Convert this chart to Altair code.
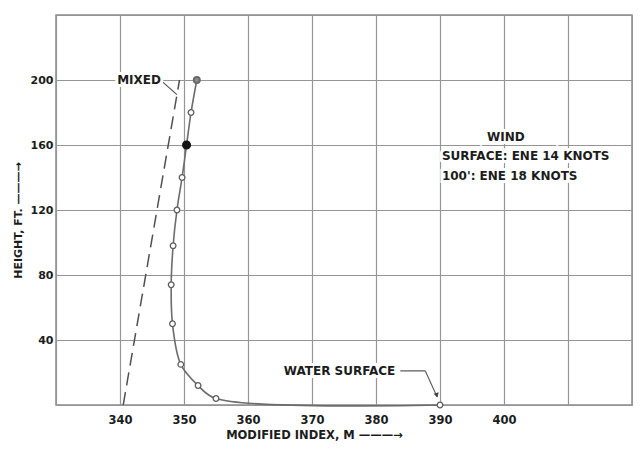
import altair as alt
import pandas as pd

HEIGHT_FT = [0, 4, 12, 25, 50, 74, 98, 120, 140, 160, 180, 200]
INDEX_M = [390.0, 355.0, 352.2, 349.5, 348.2, 348.0, 348.3, 348.9, 349.7, 350.4, 351.1, 352.0]
SOLID_DOT_HEIGHTS = [160]
GREY_DOT_HEIGHTS = [200]

# "Mixed" reference (dashed line)
MIXED_HEIGHT_FT = [0, 200]
MIXED_INDEX_M = [340.5, 349.3]

X_TICKS = [330, 340, 350, 360, 370, 380, 390, 400, 410, 420]
X_TICK_LABELS = ["340", "350", "360", "370", "380", "390", "400"]
Y_TICKS = [0, 40, 80, 120, 160, 200, 240]
Y_TICK_LABELS = ["40", "80", "120", "160", "200"]

WIND_LINES = ["WIND", "SURFACE: ENE 14 KNOTS", "100': ENE 18 KNOTS"]

FONT = "DejaVu Sans"
INK = "#1c1c1c"
GRID = "#959595"

profile = pd.DataFrame({"m": INDEX_M, "h": HEIGHT_FT})
profile["kind"] = [
    "solid" if h in SOLID_DOT_HEIGHTS else ("grey" if h in GREY_DOT_HEIGHTS else "open")
    for h in HEIGHT_FT
]
mixed = pd.DataFrame({"m": MIXED_INDEX_M, "h": MIXED_HEIGHT_FT})

xs = alt.Scale(domain=[330, 420], nice=False, zero=False)
ys = alt.Scale(domain=[0, 240], nice=False, zero=False)

x_lab = "[" + ",".join(X_TICK_LABELS) + "]"
y_lab = "[" + ",".join(Y_TICK_LABELS) + "]"

xaxis = alt.Axis(
    values=X_TICKS, grid=True, ticks=False, domain=False,
    labelExpr=f"indexof({x_lab}, datum.value) >= 0 ? datum.label : ''",
    labelPadding=9, labelFontSize=11.5, labelFont=FONT, labelFontWeight="bold", labelColor=INK,
    title="MODIFIED INDEX, M ———→", titleFont=FONT, titleFontSize=11.5, titleFontWeight="bold",
    titleColor=INK, titleX=258, titleY=30, titleAlign="center", titleBaseline="middle",
    titleAnchor="start",
)
yaxis = alt.Axis(
    values=Y_TICKS, grid=True, ticks=False, domain=False,
    labelExpr=f"indexof({y_lab}, datum.value) >= 0 ? datum.label : ''",
    labelPadding=3, labelFontSize=11, labelFont=FONT, labelFontWeight="bold", labelColor=INK,
    title="HEIGHT, FT. ———→", titleFont=FONT, titleFontSize=11, titleFontWeight="bold",
    titleColor=INK, titleX=-38, titleY=205, titleAngle=270, titleAlign="center",
    titleBaseline="middle", titleAnchor="start",
)

X = alt.X("m:Q", scale=xs, axis=xaxis)
Y = alt.Y("h:Q", scale=ys, axis=yaxis)

curve = alt.Chart(profile).mark_line(
    interpolate="catmull-rom", color="#6c6c6c", strokeWidth=1.6
).encode(x=X, y=Y, order=alt.Order("h:Q"))

dashed = alt.Chart(mixed).mark_line(
    color="#505050", strokeWidth=1.5, strokeDash=[13, 7]
).encode(x=X, y=Y, order=alt.Order("h:Q"))

open_pts = alt.Chart(profile).transform_filter("datum.kind == 'open'").mark_point(
    shape="circle", filled=True, fill="white", stroke="#5c5c5c", strokeWidth=1.3, size=32, opacity=1
).encode(x=X, y=Y)

solid_pts = alt.Chart(profile).transform_filter("datum.kind == 'solid'").mark_point(
    shape="circle", filled=True, fill="#151515", stroke="#151515", size=50, opacity=1
).encode(x=X, y=Y)

grey_pts = alt.Chart(profile).transform_filter("datum.kind == 'grey'").mark_point(
    shape="circle", filled=True, fill="#8a8a8a", stroke="#6a6a6a", size=36, opacity=1
).encode(x=X, y=Y)

# Leaders
leaders = pd.DataFrame({
    "m": [346.6, 383.8, 387.7],
    "h": [199.0, 21.0, 21.0],
    "m2": [348.9, 387.7, 389.55],
    "h2": [191.0, 21.0, 5.0],
})
leader_rules = alt.Chart(leaders).mark_rule(color="#555555", strokeWidth=1.2).encode(
    x=X, y=Y, x2="m2:Q", y2="h2:Q"
)
arrow = alt.Chart(pd.DataFrame({"m": [389.5], "h": [6.0]})).mark_point(
    shape="triangle-down", filled=True, color="#444444", size=28, angle=344, opacity=1
).encode(x=X, y=Y)

# Text annotations
def label(df, align, halo, size=12):
    base = alt.Chart(df)
    kw = dict(font=FONT, fontSize=size, fontWeight="bold", align=align, baseline="middle")
    t = base.mark_text(color=INK, **kw).encode(x=X, y=Y, text="t:N")
    if halo:
        h = base.mark_text(color="white", stroke="white", strokeWidth=6, **kw).encode(
            x=X, y=Y, text="t:N")
        return h + t
    return t

mixed_txt = label(pd.DataFrame({"m": [346.4], "h": [200.0], "t": ["MIXED"]}), "right", True)
water_txt = label(pd.DataFrame({"m": [374.3], "h": [21.0], "t": ["WATER SURFACE"]}), "center", True)
wind_title = label(pd.DataFrame({"m": [400.3], "h": [165.0], "t": [WIND_LINES[0]]}), "center", True)
wind_rest = label(pd.DataFrame({"m": [390.3, 390.3], "h": [153.0, 141.0], "t": WIND_LINES[1:]}),
                  "left", True)

chart = alt.layer(
    dashed, curve, open_pts, grey_pts, solid_pts, leader_rules, arrow,
    mixed_txt, water_txt, wind_title, wind_rest,
).properties(
    width=576, height=390,
    autosize=alt.AutoSizeParams(type="none"),
    padding={"left": 48, "top": 7, "right": 1, "bottom": 36},
    background="white",
).configure_view(
    stroke="#8a8a8a", strokeWidth=1.5
).configure_axis(
    gridColor=GRID, gridWidth=1.2, gridOpacity=1
)

chart.save("out.html", embed_options={"renderer": "svg", "actions": False})
